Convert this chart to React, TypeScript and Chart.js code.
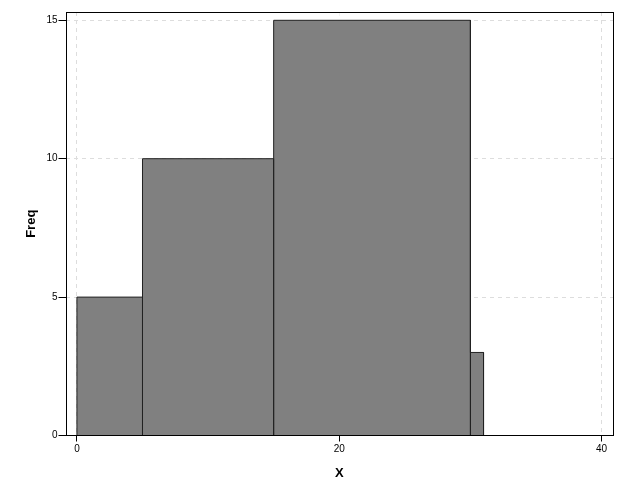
import React, { useEffect, useRef } from "react";
import { Chart, registerables } from "chart.js";

Chart.register(...registerables);

// Histogram bins: edges and frequencies
const binEdges = [0, 5, 15, 30, 31, 40];
const freqs = [5, 10, 15, 3, 0];
const xTicks = [0, 20, 40];
const yTicks = [0, 5, 10, 15];
const xTitle = "X";
const yTitle = "Freq";

function histogramOutline() {
  const pts: { x: number; y: number }[] = [];
  for (let i = 0; i < freqs.length; i++) {
    pts.push({ x: binEdges[i], y: 0 });
    pts.push({ x: binEdges[i], y: freqs[i] });
    pts.push({ x: binEdges[i + 1], y: freqs[i] });
    pts.push({ x: binEdges[i + 1], y: 0 });
  }
  return pts;
}

const framePlugin = {
  id: "frame",
  afterDraw(chart: any) {
    const { ctx, chartArea } = chart;
    ctx.save();
    ctx.strokeStyle = "#000";
    ctx.lineWidth = 1;
    ctx.strokeRect(
      Math.round(chartArea.left) + 0.5,
      Math.round(chartArea.top) + 0.5,
      Math.round(chartArea.right - chartArea.left) - 1,
      Math.round(chartArea.bottom - chartArea.top) - 1
    );
    ctx.restore();
  },
};

export default function App() {
  const ref = useRef<HTMLCanvasElement>(null);
  useEffect(() => {
    if (!ref.current) return;
    const chart = new Chart(ref.current, {
      type: "line",
      data: {
        datasets: [
          {
            data: histogramOutline(),
            borderColor: "#222",
            borderWidth: 1,
            backgroundColor: "#808080",
            fill: "origin",
            pointRadius: 0,
            tension: 0,
          },
        ],
      },
      options: {
        animation: false,
        responsive: false,
        maintainAspectRatio: false,
        layout: { padding: { left: 0, top: 12, right: 11, bottom: 0 } },
        plugins: { legend: { display: false }, tooltip: { enabled: false } },
        scales: {
          x: {
            type: "linear",
            min: -0.87,
            max: 40.87,
            afterBuildTicks: (s: any) => {
              s.ticks = xTicks.map((v) => ({ value: v }));
            },
            afterFit: (s: any) => {
              s.height = 64.5;
            },
            border: { display: false, dash: [4, 4] },
            grid: {
              color: (c: any) => (c.tick && c.tick.value === 20 ? "#f3f3f3" : "#dddddd"),
              tickColor: "#000",
              tickBorderDash: [],
              tickLength: 6,
              lineWidth: 1,
            },
            ticks: {
              color: "#000",
              font: { family: "Liberation Sans", size: 10 },
              padding: 2,
              maxRotation: 0,
            },
            title: {
              display: true,
              text: xTitle,
              color: "#000",
              font: { family: "Liberation Sans", size: 13, weight: "bold" },
              padding: { top: 0, bottom: 19 },
            },
          },
          y: {
            type: "linear",
            min: 0,
            max: 15.3,
            afterBuildTicks: (s: any) => {
              s.ticks = yTicks.map((v) => ({ value: v }));
            },
            afterFit: (s: any) => {
              s.width = 65.5;
            },
            border: { display: false, dash: [4, 4] },
            grid: {
              color: "#dddddd",
              tickColor: "#000",
              tickBorderDash: [],
              tickLength: 7,
              lineWidth: 1,
            },
            ticks: {
              color: "#000",
              font: { family: "Liberation Sans", size: 10 },
              padding: 1,
            },
            title: {
              display: true,
              text: yTitle,
              color: "#000",
              font: { family: "Liberation Sans", size: 13, weight: "bold" },
              padding: { top: 24, bottom: 0 },
            },
          },
        },
      },
      plugins: [framePlugin],
    });
    return () => chart.destroy();
  }, []);
  return (
    <div style={{ position: "fixed", left: 0, top: 0, width: 624, height: 500, background: "#fff" }}>
      <canvas ref={ref} width={624} height={500} style={{ width: 624, height: 500 }} />
    </div>
  );
}
